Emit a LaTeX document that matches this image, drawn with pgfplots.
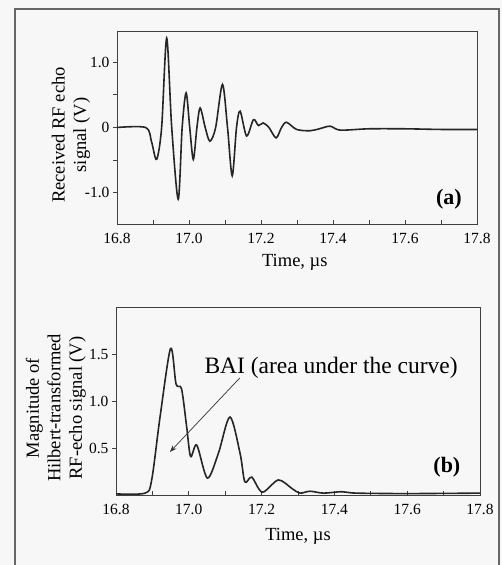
\documentclass[border=0pt]{standalone}
\usepackage{fontspec}
\setmainfont{Liberation Serif}
\usepackage{pgfplots}
\pgfplotsset{compat=1.18}
\usetikzlibrary{arrows.meta}

\pgfplotsset{
  scanstyle/.style={
    scale only axis,
    xmin=16.8, xmax=17.8,
    xtick={16.8,17.0,17.2,17.4,17.6,17.8},
    minor x tick num=1,
    xtick align=inside, ytick align=outside,
    xtick pos=bottom, ytick pos=left,
    major tick length=4pt, minor tick length=4pt,
    every tick/.style={black!75, line width=0.8pt},
    minor tick style={black!75, line width=0.8pt},
    axis line style={black!75, line width=0.9pt},
    /pgf/number format/fixed,
    /pgf/number format/fixed zerofill,
    /pgf/number format/precision=1,
    /pgf/number format/assume math mode=true,
    ticklabel style={font=\fontsize{15.5}{16}\selectfont},
    xticklabel style={yshift=-6pt},
    label style={font=\fontsize{18.5}{21.5}\selectfont, align=center},
  },
  echo/.style={black!85, line width=1.6pt, no markers, smooth, tension=0.5},
}

\begin{document}
\begin{tikzpicture}
\useasboundingbox (0,0) rectangle (502pt,565pt);
\fill[gray!6] (0,0) rectangle (502pt,565pt);
\draw[black!60, line width=2pt] (15pt,-5pt) -- (15pt,556pt) -- (499pt,556pt) -- (499pt,-5pt);

% (a) received RF echo
\begin{axis}[
    scanstyle,
    at={(117pt,341pt)}, anchor=south west,
    width=360pt, height=193pt,
    ymin=-1.48, ymax=1.48,
    ytick={-1,0,1},
    yticklabels={-1.0,0,1.0},
    minor ytick={-0.5,0.5},
    xlabel={Time, µs},
    xlabel style={at={(axis description cs:0.494,-0.197)}, anchor=center},
    ylabel={Received RF echo\\signal (V)},
    ylabel style={at={(axis description cs:-0.128,0.461)}, anchor=center},
]
\addplot[echo] coordinates {
  (16.800,0) (16.880,0) (16.896,-0.22) (16.910,-0.49) (16.924,0)
  (16.938,1.37) (16.952,0) (16.970,-1.10) (16.981,0) (16.992,0.53)
  (17.002,0) (17.012,-0.49) (17.022,0) (17.031,0.30) (17.045,0)
  (17.058,-0.21) (17.074,0) (17.093,0.66) (17.107,0) (17.120,-0.74)
  (17.132,0) (17.142,0.25) (17.160,-0.13) (17.179,0.12) (17.193,0.03)
  (17.206,0.07) (17.222,0) (17.242,-0.16) (17.257,0) (17.271,0.08)
  (17.299,-0.03) (17.336,-0.05) (17.362,-0.02) (17.392,0.02) (17.420,-0.04)
  (17.500,-0.02) (17.600,-0.02) (17.700,-0.03) (17.800,-0.03)
};
\node[font=\bfseries\fontsize{22}{24}\selectfont] at (axis cs:17.722,-1.10) {(a)};
\end{axis}

% (b) Hilbert-transformed magnitude
\begin{axis}[
    scanstyle,
    at={(116pt,70pt)}, anchor=south west,
    width=364pt, height=188pt,
    ymin=0, ymax=2.0,
    ytick={0.5,1.0,1.5},
    xlabel={Time, µs},
    xlabel style={at={(axis description cs:0.5,-0.218)}, anchor=center},
    ylabel={Magnitude of\\Hilbert-transformed\\RF-echo signal (V)},
    ylabel style={at={(axis description cs:-0.165,0.463)}, anchor=center},
]
\addplot[echo] coordinates {
  (16.800,0.012) (16.880,0.02) (16.898,0.16) (16.921,0.83) (16.950,1.56)
  (16.965,1.18) (16.980,1.13) (16.994,0.73) (17.005,0.41) (17.022,0.53)
  (17.051,0.18) (17.081,0.44) (17.113,0.83) (17.141,0.44) (17.154,0.14)
  (17.173,0.19) (17.202,0.03) (17.246,0.16) (17.283,0.07) (17.305,0.02)
  (17.333,0.04) (17.370,0.02) (17.420,0.035) (17.460,0.02) (17.600,0.015)
  (17.800,0.02)
};
\node[font=\fontsize{23.5}{25}\selectfont] at (axis cs:17.391,1.35) {BAI (area under the curve)};
\draw[-{Stealth[length=7pt,width=5pt]}, line width=0.7pt, black!80]
  (axis cs:17.14,1.245) -- (axis cs:16.948,0.457);
\node[font=\bfseries\fontsize{22}{24}\selectfont] at (axis cs:17.709,0.30) {(b)};
\end{axis}
\end{tikzpicture}
\end{document}
